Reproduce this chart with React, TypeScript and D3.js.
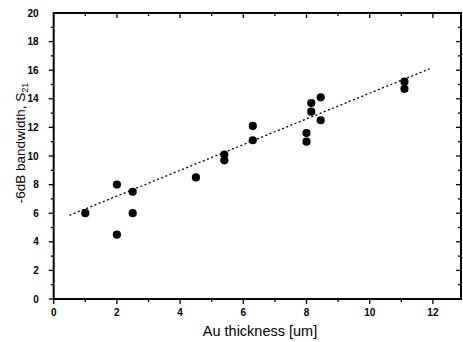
import { useEffect, useRef } from "react";
import * as d3 from "d3";

// measured points: Au thickness (um) vs -6dB bandwidth
const thickness = [1.0, 2.0, 2.0, 2.5, 2.5, 4.5, 5.4, 5.4, 6.3, 6.3, 8.0, 8.0, 8.15, 8.15, 8.45, 8.45, 11.1, 11.1];
const bandwidth = [6.0, 8.0, 4.5, 7.5, 6.0, 8.5, 10.1, 9.7, 12.1, 11.1, 11.6, 11.0, 13.7, 13.1, 14.1, 12.5, 15.2, 14.7];

// linear fit endpoints
const fitX = [0.5, 11.9];
const fitY = [5.85, 16.1];

const xTicks = [0, 2, 4, 6, 8, 10, 12];
const yTicks = [0, 2, 4, 6, 8, 10, 12, 14, 16, 18, 20];

export default function App() {
  const ref = useRef<SVGSVGElement>(null);

  useEffect(() => {
    const svg = d3.select(ref.current);
    svg.selectAll("*").remove();

    const W = 463, H = 342;
    const left = 53.7, right = 461, top = 13, bottom = 299;
    const font = "'Liberation Sans Narrow', 'Liberation Sans', Arial, sans-serif";

    const x = d3.scaleLinear().domain([0, (right - left) / 31.6]).range([left, right]);
    const y = d3.scaleLinear().domain([0, 20]).range([bottom, top]);

    svg.append("rect").attr("width", W).attr("height", H).attr("fill", "white");

    const xMinor = d3.range(1, 13, 1);
    const yMinor = d3.range(1, 20, 1);

    const g = svg.append("g").attr("stroke", "black").attr("fill", "none");

    // left axis: ticks outward, right axis: inward
    yMinor.forEach(v => {
      const major = v % 2 === 0;
      g.append("line").attr("x1", left).attr("x2", left - (major ? 5 : 3))
        .attr("y1", y(v)).attr("y2", y(v)).attr("stroke-width", 1.3);
      g.append("line").attr("x1", right).attr("x2", right - (major ? 5 : 3))
        .attr("y1", y(v)).attr("y2", y(v)).attr("stroke-width", 1.3);
    });
    g.append("line").attr("x1", left).attr("x2", left - 5).attr("y1", y(0)).attr("y2", y(0)).attr("stroke-width", 1.3);

    // bottom ticks outward, top ticks inward
    xMinor.forEach(v => {
      const major = v % 2 === 0;
      g.append("line").attr("x1", x(v)).attr("x2", x(v))
        .attr("y1", bottom).attr("y2", bottom + (major ? 5 : 3)).attr("stroke-width", 1.3);
      g.append("line").attr("x1", x(v)).attr("x2", x(v))
        .attr("y1", top).attr("y2", top + (major ? 5 : 3)).attr("stroke-width", 1.3);
    });
    g.append("line").attr("x1", x(0)).attr("x2", x(0)).attr("y1", bottom).attr("y2", bottom + 5).attr("stroke-width", 1.3);

    // frame
    g.append("rect").attr("x", left).attr("y", top)
      .attr("width", right - left).attr("height", bottom - top)
      .attr("stroke-width", 2);

    // tick labels
    svg.append("g").selectAll("text").data(yTicks).join("text")
      .attr("x", left - 15).attr("y", d => y(d) + 3.5)
      .attr("text-anchor", "end").attr("font-family", font)
      .attr("font-size", 10).attr("font-weight", "bold")
      .text(d => d);

    svg.append("g").selectAll("text").data(xTicks).join("text")
      .attr("x", d => x(d)).attr("y", bottom + 17)
      .attr("text-anchor", "middle").attr("font-family", font)
      .attr("font-size", 10).attr("font-weight", "bold")
      .text(d => d);

    // fit line
    svg.append("line")
      .attr("x1", x(fitX[0])).attr("y1", y(fitY[0]))
      .attr("x2", x(fitX[1])).attr("y2", y(fitY[1]))
      .attr("stroke", "black").attr("stroke-width", 1.3)
      .attr("stroke-dasharray", "2,2.5");

    // points
    svg.append("g").selectAll("circle").data(thickness.map((t, i) => [t, bandwidth[i]])).join("circle")
      .attr("cx", d => x(d[0])).attr("cy", d => y(d[1]))
      .attr("r", 4.1).attr("fill", "black");

    // axis titles
    svg.append("text")
      .attr("x", 260).attr("y", 336)
      .attr("text-anchor", "middle").attr("font-family", "'Liberation Sans', Arial, sans-serif")
      .attr("font-size", 14.5).text("Au thickness [um]");

    const yl = svg.append("text")
      .attr("transform", "translate(25,143) rotate(-90)")
      .attr("text-anchor", "middle").attr("font-family", "'Liberation Sans', Arial, sans-serif")
      .attr("font-size", 13.5);
    yl.append("tspan").text("-6dB bandwidth, S");
    yl.append("tspan").attr("font-size", 9).attr("dy", 3).text("21");
  }, []);

  return (
    <svg ref={ref} width={463} height={342}
      style={{ position: "absolute", left: 0, top: 0, display: "block" }} />
  );
}
